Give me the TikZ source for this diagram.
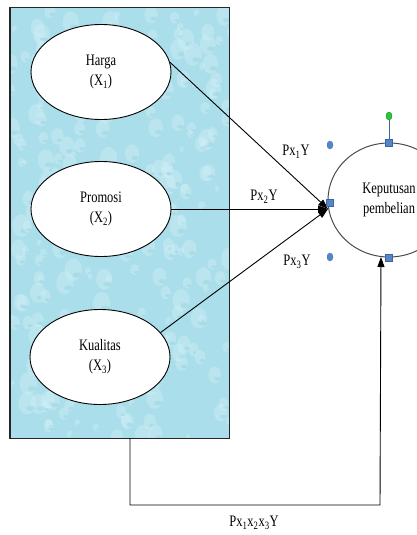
\documentclass[tikz,border=0pt]{standalone}
\usepackage{fontspec}
\setmainfont[FakeStretch=0.78]{Liberation Serif}
\usetikzlibrary{shapes.geometric,arrows.meta}
\definecolor{water}{RGB}{170,222,234}
\definecolor{drop}{RGB}{210,240,247}
\definecolor{dropdark}{RGB}{125,195,215}
\definecolor{handle}{RGB}{84,134,200}
\definecolor{handleline}{RGB}{60,100,160}
\definecolor{greenh}{RGB}{40,200,60}
\begin{document}
\begin{tikzpicture}[x=1pt,y=-1pt,
  font=\fontsize{16}{20}\selectfont,
  var/.style={ellipse,draw=black,line width=0.9pt,fill=white,minimum width=140,minimum height=95,align=center,inner sep=0pt},
  dv/.style={ellipse,draw={black!70},line width=1pt,minimum width=122,minimum height=114,align=center,inner sep=0pt},
  path/.style={draw=black,line width=0.9pt,-{Triangle[length=10pt,width=7pt]}},
  sq/.style={rectangle,draw=handleline,fill=handle,minimum size=7pt,inner sep=0pt,line width=0.4pt},
  dot/.style={ellipse,draw=handleline,fill=handle,minimum width=6pt,minimum height=8pt,inner sep=0pt,line width=0.3pt},
  lbl/.style={inner sep=1pt}]
\useasboundingbox (0,0) rectangle (417,535);
\begin{scope}
\clip (0,0) rectangle (417,535);
% panel
\node[rectangle,draw=black!85,line width=1pt,fill=water,minimum width=220,minimum height=430,inner sep=0pt] (panel) at (119.5,223) {};
\begin{scope}
\clip (10,8) rectangle (229,438);
\pgfmathsetseed{7}
\foreach \i in {1,...,260}{
  \pgfmathsetmacro{\px}{10+rnd*220}
  \pgfmathsetmacro{\py}{8+rnd*430}
  \pgfmathsetmacro{\pr}{2+rnd*7}
  \fill[drop,opacity=0.4] (\px,\py) ellipse ({\pr} and {\pr*1.3});
  \fill[dropdark,opacity=0.25] (\px+0.4*\pr,\py+0.6*\pr) ellipse ({0.5*\pr} and {0.3*\pr});
}
\end{scope}
\draw[black!85,line width=1pt] (10,8) rectangle (229,438);
% nodes
\node[var] (h) at (101,72) {Harga\\(X\textsubscript{1})};
\node[var] (p) at (101,209) {Promosi\\(X\textsubscript{2})};
\node[var] (q) at (100,357) {Kualitas\\(X\textsubscript{3})};
\node[dv] (k) at (389,200) {Keputusan\\pembelian};
\coordinate (conv) at (328,209);
% paths
\draw[path] (h.8) -- (conv);
\draw[path] (p.east) -- (conv);
\draw[path] (q.22) -- (conv);
\coordinate (b0) at (130,438);
\coordinate (bc) at (380,505);
\draw[path] (b0) |- (bc) -- (k.-98);
% labels
\node[lbl] (l1) at (296,152) {Px\textsubscript{1}Y};
\node[lbl] (l2) at (264,197) {Px\textsubscript{2}Y};
\node[lbl] (l3) at (297,262) {Px\textsubscript{3}Y};
\node[lbl] (l4) at (254,523) {Px\textsubscript{1}x\textsubscript{2}x\textsubscript{3}Y};
% selection handles
\node[dot,draw=green!50!black,fill=greenh] (g) at (389,116) {};
\node[sq] (st) at (389,143) {};
\draw[handleline,line width=0.6pt] (g) -- (st);
\node[sq] (sl) at (330,203) {};
\node[sq] (sb) at (389,258) {};
\node[dot] (d1) at (330,145) {};
\node[dot] (d2) at (330,257) {};
\end{scope}
\end{tikzpicture}
\end{document}
